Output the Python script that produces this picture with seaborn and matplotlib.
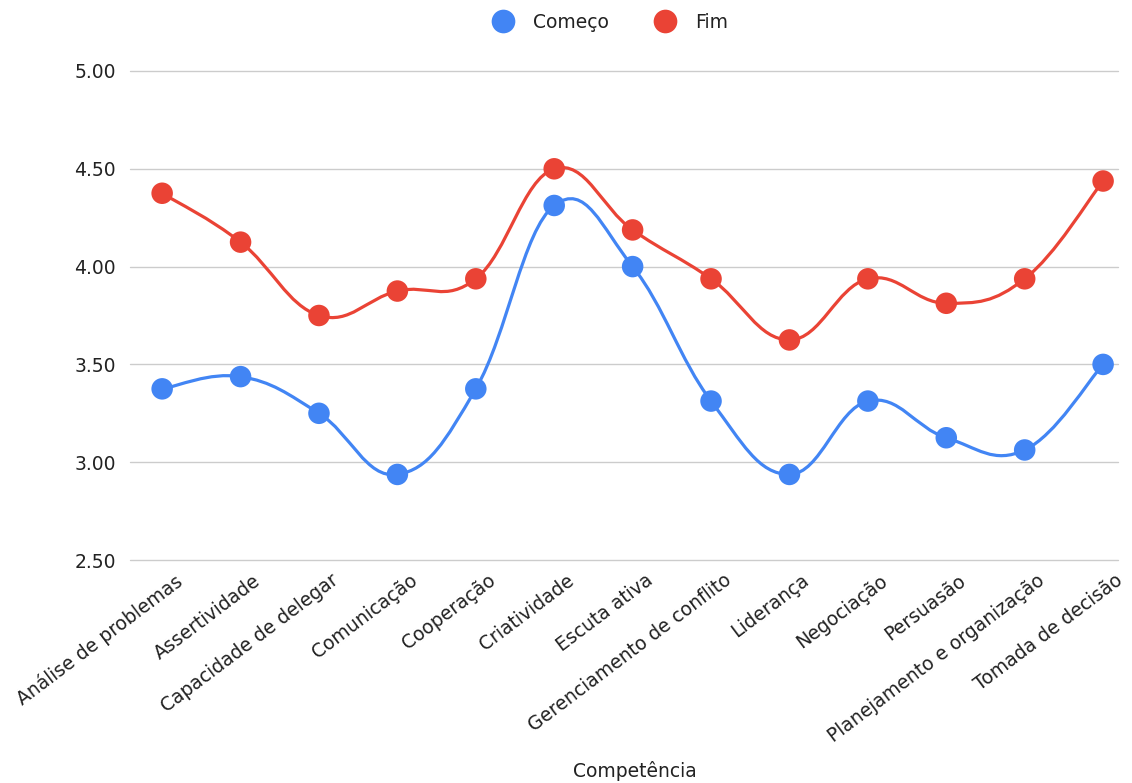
import matplotlib
matplotlib.use("Agg")
import matplotlib.pyplot as plt
import matplotlib.transforms as mtransforms
from matplotlib.path import Path
from matplotlib.patches import PathPatch
import numpy as np
import pandas as pd
import seaborn as sns

competencias = [
    "Análise de problemas", "Assertividade", "Capacidade de delegar", "Comunicação",
    "Cooperação", "Criatividade", "Escuta ativa", "Gerenciamento de conflito",
    "Liderança", "Negociação", "Persuasão", "Planejamento e organização",
    "Tomada de decisão",
]
comeco = [3.375, 3.4375, 3.25, 2.9375, 3.375, 4.3125, 4.0, 3.3125, 2.9375, 3.3125, 3.125, 3.0625, 3.5]
fim = [4.375, 4.125, 3.75, 3.875, 3.9375, 4.5, 4.1875, 3.9375, 3.625, 3.9375, 3.8125, 3.9375, 4.4375]
y_ticks = [2.5, 3.0, 3.5, 4.0, 4.5, 5.0]

BLUE = "#4285F4"
RED = "#EA4335"
TEXT = "#222222"
FS = 13.5


def smooth_path(ys, k=0.2):
    # cubic bezier through the data points (like the "smooth" line option)
    pts = np.column_stack([np.arange(len(ys)), ys]).astype(float)
    verts = [pts[0]]
    codes = [Path.MOVETO]
    n = len(pts)
    for i in range(n - 1):
        p0 = pts[max(i - 1, 0)]
        p1 = pts[i]
        p2 = pts[i + 1]
        p3 = pts[min(i + 2, n - 1)]
        c1 = p1 + (p2 - p0) * k
        c2 = p2 - (p3 - p1) * k
        verts += [c1, c2, p2]
        codes += [Path.CURVE4] * 3
    return Path(verts, codes)


df = pd.DataFrame({
    "Competência": competencias * 2,
    "valor": comeco + fim,
    "serie": ["Começo"] * len(comeco) + ["Fim"] * len(fim),
})

sns.set_theme(style="white")
plt.rcParams["font.family"] = ["DejaVu Sans"]

fig = plt.figure(figsize=(11.32, 7.83), dpi=100)
ax = fig.add_axes([130 / 1132, 1 - 560 / 783, (1118 - 130) / 1132, (560 - 71) / 783])

for ys, col, z in [(comeco, BLUE, 3), (fim, RED, 5)]:
    ax.add_patch(PathPatch(smooth_path(ys), facecolor="none", edgecolor=col,
                           lw=2.3, zorder=z, capstyle="round"))

sns.scatterplot(data=df, x="Competência", y="valor", hue="serie",
                palette={"Começo": BLUE, "Fim": RED}, s=240, linewidth=0,
                ax=ax, zorder=6, legend=True)

ax.set_xlim(-0.41, 12.19)
ax.set_ylim(2.5, 5.0)
ax.set_yticks(y_ticks)
ax.set_yticklabels([f"{v:.2f}" for v in y_ticks])
ax.yaxis.grid(True, color="#cccccc", lw=1)
ax.xaxis.grid(False)
for gl in ax.get_ygridlines():
    gl.set_clip_on(False)
for s in ax.spines.values():
    s.set_visible(False)
ax.tick_params(axis="both", length=0, labelsize=FS, labelcolor=TEXT)
ax.tick_params(axis="y", pad=10)

ax.set_xticks(range(len(competencias)))
ax.set_xticklabels(competencias, rotation=37, ha="right", va="top", rotation_mode="anchor")
offset = mtransforms.ScaledTranslation(12 / 100, -6 / 100, fig.dpi_scale_trans)
for lab in ax.get_xticklabels():
    lab.set_transform(lab.get_transform() + offset)

ax.set_ylabel("")
ax.set_xlabel("Competência", fontsize=FS, color=TEXT)
ax.xaxis.set_label_coords((635 - 130) / 988, -(761 - 560) / 489)

handles, labels = ax.get_legend_handles_labels()
ax.get_legend().remove()
fig.legend(handles, labels, loc="center", bbox_to_anchor=(606 / 1132, 1 - 22 / 783),
           ncol=2, frameon=False, fontsize=FS, markerscale=1.1, handletextpad=0.6,
           columnspacing=2.0, labelcolor=TEXT)

fig.savefig("out.png", dpi=100)
